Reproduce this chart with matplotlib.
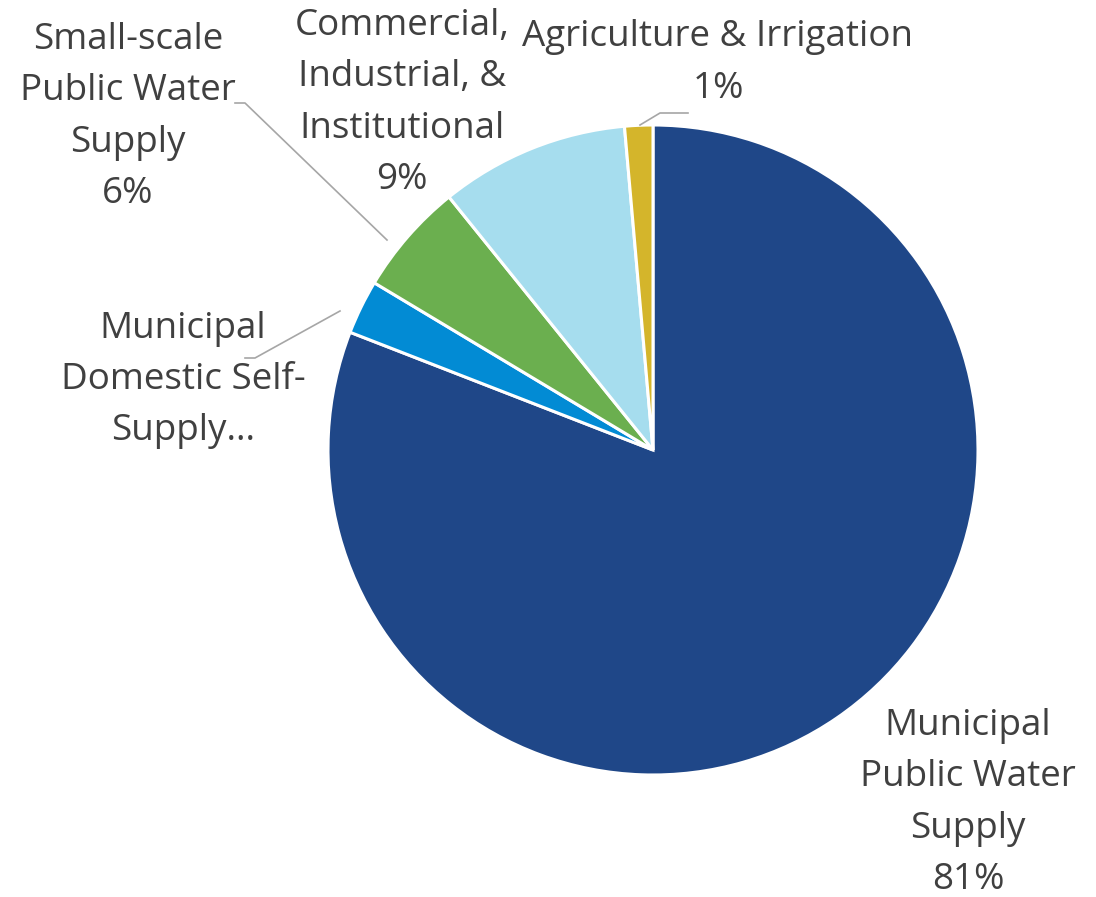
import matplotlib
matplotlib.use("Agg")
from matplotlib import pyplot as plt

# data
categories = ["Municipal Public Water Supply", "Municipal Domestic Self-Supply",
              "Small-scale Public Water Supply", "Commercial, Industrial, & Institutional",
              "Agriculture & Irrigation"]
shares = [80.9, 2.7, 5.6, 9.4, 1.4]
colors = ["#1F4788", "#028BD4", "#6BAF4F", "#A6DDEE", "#D4B52B"]
label_text = ["Municipal\nPublic Water\nSupply", "Municipal\nDomestic Self-\nSupply…",
              "Small-scale\nPublic Water\nSupply", "Commercial,\nIndustrial, &\nInstitutional",
              "Agriculture & Irrigation"]
show_pct = [True, False, True, True, True]

W, H = 1096, 897
fig = plt.figure(figsize=(W / 100, H / 100), dpi=100)
ax = fig.add_axes([0, 0, 1, 1])

cx, cy, r = 653, H - 450, 325
ax.pie(shares, colors=colors, startangle=90, counterclock=False,
       center=(cx, cy), radius=r, frame=True,
       wedgeprops=dict(edgecolor="white", linewidth=2.2))
ax.set_xlim(0, W)
ax.set_ylim(0, H)
ax.axis("off")

# label positions (pixel coords from top-left)
label_pos = [(968, 803), (183, 380), (128, 117), (402, 103), (718, 63)]
for txt, pct, v, (x, y) in zip(label_text, show_pct, shares, label_pos):
    s = txt + ("\n%d%%" % round(v) if pct else "")
    ax.text(x, H - y, s, ha="center", va="center", fontsize=26.5,
            color="#404040", family=["Open Sans", "DejaVu Sans"], linespacing=1.56)

# leader lines
leaders = [
    [(245, 358), (255, 358), (340, 311)],
    [(235, 103), (245, 103), (387, 240)],
    [(640, 125), (660, 113), (688, 113)],
]
for pts in leaders:
    xs = [p[0] for p in pts]
    ys = [H - p[1] for p in pts]
    ax.plot(xs, ys, color="#A6A6A6", lw=1.2)

fig.savefig("out.png", dpi=100)
